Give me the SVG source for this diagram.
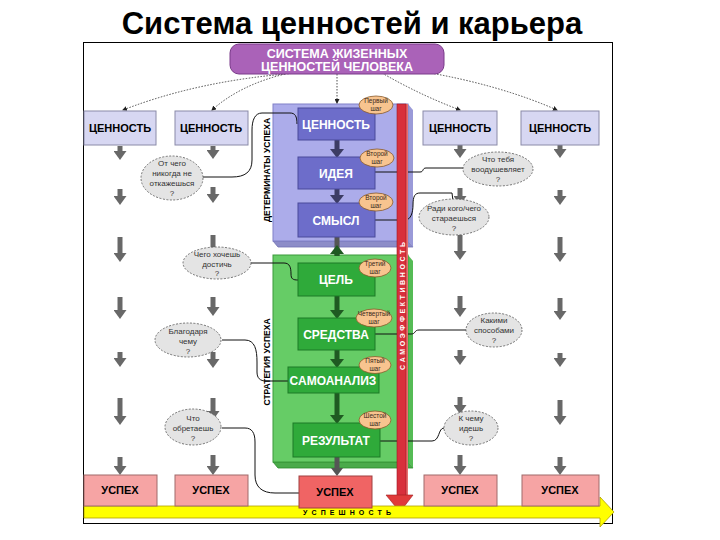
<svg xmlns="http://www.w3.org/2000/svg" width="720" height="540" viewBox="0 0 720 540">
<defs>
<style>
.t{font-family:"Liberation Sans",Arial,sans-serif;font-weight:bold;}
.val{fill:#d7d7f2;stroke:#8a8aa8;stroke-width:1;}
.ok{fill:#f6a4a4;stroke:#a06a6a;stroke-width:1;}
.blue{fill:#6d6dca;stroke:#4a4a9a;stroke-width:1;}
.green{fill:#2faa3a;stroke:#1d7a26;stroke-width:1;}
.step{fill:#f8c48f;stroke:#8a5a2a;stroke-width:0.8;}
.q{fill:#e4e4e4;stroke:#555;stroke-width:0.8;stroke-dasharray:2 1.5;}
.qt{font-family:"Liberation Sans",Arial,sans-serif;font-size:8px;fill:#333;text-anchor:middle;}
.st{font-family:"Liberation Sans",Arial,sans-serif;font-size:6.5px;fill:#3a2a1a;text-anchor:middle;}
.lbl{font-family:"Liberation Sans",Arial,sans-serif;font-weight:bold;font-size:11px;text-anchor:middle;}
.wl{fill:#fff;font-size:12px;}
.top{fill:#fff;font-size:12.5px;}
.garr{stroke:#686868;stroke-width:5;marker-end:url(#gh);}
.barr{stroke:#3c3c64;stroke-width:5;marker-end:url(#bh);}
.darr{stroke:#1f5a22;stroke-width:5;marker-end:url(#dh);}
.con{fill:none;stroke:#111;stroke-width:1;}
.dot{fill:none;stroke:#222;stroke-width:0.8;stroke-dasharray:1.5 1.5;marker-end:url(#sh);}
</style>
<marker id="gh" markerUnits="userSpaceOnUse" markerWidth="9" markerHeight="13" refX="0" refY="6.5" orient="auto" viewBox="0 0 9 13"><path d="M0,0 L9,6.5 L0,13 Z" fill="#686868"/></marker>
<marker id="bh" markerUnits="userSpaceOnUse" markerWidth="9" markerHeight="14" refX="0" refY="7" orient="auto" viewBox="0 0 9 14"><path d="M0,0 L9,7 L0,14 Z" fill="#3c3c64"/></marker>
<marker id="dh" markerUnits="userSpaceOnUse" markerWidth="9" markerHeight="14" refX="0" refY="7" orient="auto" viewBox="0 0 9 14"><path d="M0,0 L9,7 L0,14 Z" fill="#1f5a22"/></marker>
<marker id="sh" markerUnits="userSpaceOnUse" markerWidth="5" markerHeight="5" refX="4" refY="2.5" orient="auto" viewBox="0 0 5 5"><path d="M0,0 L5,2.5 L0,5 Z" fill="#222"/></marker>
</defs>
<rect x="0" y="0" width="720" height="540" fill="#fff"/>
<text class="t" x="352" y="34" font-size="31" text-anchor="middle" fill="#000">Система ценностей и карьера</text>
<rect x="83.5" y="42.5" width="529" height="481" fill="#fff" stroke="#000" stroke-width="1"/>

<!-- panels -->
<g id="panel-determinants">
<polygon points="273,241 408,241 413,247 278,247" fill="#8c8cc8" stroke="#7070b0" stroke-width="0.8"/>
<polygon points="408,104 413,110 413,247 408,241" fill="#9a9ad8"/>
<rect x="273" y="104" width="135" height="137" fill="#acacea" stroke="#8080c8" stroke-width="1"/>
<text class="t" transform="translate(270,170) rotate(-90)" font-size="8.5" text-anchor="middle" fill="#000">ДЕТЕРМИНАТЫ УСПЕХА</text>
</g>
<g id="panel-strategy">
<polygon points="273,462 408,462 413,468 278,468" fill="#4aaa4a" stroke="#2a8a2a" stroke-width="0.8"/>
<polygon points="408,255 413,261 413,468 408,462" fill="#55bb55"/>
<rect x="273" y="255" width="135" height="207" fill="#66cc66" stroke="#3a9a3a" stroke-width="1"/>
<text class="t" transform="translate(270,362) rotate(-90)" font-size="8.5" text-anchor="middle" fill="#000">СТРАТЕГИЯ УСПЕХА</text>
</g>

<!-- connectors -->
<g id="connectors">
<line class="garr" x1="120" y1="146" x2="120" y2="151"/>
<line class="garr" x1="120" y1="189" x2="120" y2="196"/>
<line class="garr" x1="120" y1="237" x2="120" y2="253"/>
<line class="garr" x1="120" y1="297" x2="120" y2="310"/>
<line class="garr" x1="120" y1="352" x2="120" y2="358"/>
<line class="garr" x1="120" y1="398" x2="120" y2="416"/>
<line class="garr" x1="120" y1="457" x2="120" y2="466"/>
<line class="garr" x1="213" y1="146" x2="213" y2="150"/>
<line class="garr" x1="213" y1="187" x2="213" y2="194"/>
<line class="garr" x1="213" y1="235" x2="213" y2="252"/>
<line class="garr" x1="213" y1="297" x2="213" y2="307"/>
<line class="garr" x1="213" y1="352" x2="213" y2="359"/>
<line class="garr" x1="213" y1="398" x2="213" y2="411"/>
<line class="garr" x1="213" y1="455" x2="213" y2="466"/>
<line class="garr" x1="460" y1="145" x2="460" y2="149"/>
<line class="garr" x1="460" y1="188" x2="460" y2="196"/>
<line class="garr" x1="460" y1="235" x2="460" y2="251"/>
<line class="garr" x1="460" y1="296" x2="460" y2="308"/>
<line class="garr" x1="460" y1="350" x2="460" y2="356"/>
<line class="garr" x1="460" y1="397" x2="460" y2="405"/>
<line class="garr" x1="460" y1="455" x2="460" y2="466"/>
<line class="garr" x1="560" y1="145" x2="560" y2="149"/>
<line class="garr" x1="560" y1="190" x2="560" y2="196"/>
<line class="garr" x1="560" y1="237" x2="560" y2="253"/>
<line class="garr" x1="560" y1="298" x2="560" y2="311"/>
<line class="garr" x1="560" y1="353" x2="560" y2="358"/>
<line class="garr" x1="560" y1="400" x2="560" y2="416"/>
<line class="garr" x1="560" y1="457" x2="560" y2="466"/>
<line class="barr" x1="337" y1="140" x2="337" y2="149"/>
<line class="barr" x1="337" y1="189" x2="337" y2="195"/>
<line x1="337" y1="237" x2="337" y2="256" stroke="#555" stroke-width="5"/>
<line class="darr" x1="337" y1="256" x2="337" y2="254"/>
<line class="darr" x1="337" y1="296" x2="337" y2="310"/>
<line class="darr" x1="337" y1="350" x2="337" y2="359"/>
<line class="darr" x1="337" y1="393" x2="337" y2="415"/>
<line x1="337" y1="457" x2="337" y2="468" stroke="#555" stroke-width="5"/>
<path d="M331,468 L343,468 L337,476 Z" fill="#555"/>
<path class="dot" d="M298,73 Q200,80 123,110"/>
<path class="dot" d="M285,74 Q240,85 212,110"/>
<path class="dot" d="M337,74 L337,103"/>
<path class="dot" d="M382,73 Q420,95 460,110"/>
<path class="dot" d="M425,72 Q500,85 557,110"/>
<path class="con" d="M297,124 C297,116 295,113 290,113 L262,113 C255,113 252,120 252,130 L252,160 C252,172 245,177 232,177 L203,177"/>
<path class="con" d="M375,172 L420,172 C424,172 422,168 426,168 L463,168"/>
<path class="con" d="M375,220 L405,220 C411,220 413,212 413,205 C413,196 415,193 420,193 L452,193 L453,201"/>
<path class="con" d="M251,263 L284,263 C290,263 291,268 291,274 C291,279 293,280 298,280"/>
<path class="con" d="M375,334 L411,334 C416,334 414,330 419,330 L466,330"/>
<path class="con" d="M222,340 L245,340 C255,340 257,350 257,362 L257,372 C257,378 260,381 266,381 L288,381"/>
<path class="con" d="M222,428 L245,428 C252,428 255,433 255,442 L255,475 C255,487 262,493 275,493 L299,493" stroke="#888"/>
<path class="con" d="M380,441 L432,441 C440,441 438,428 444,428"/>
</g>

<!-- red bar -->
<g id="self-efficacy">
<rect x="405" y="104" width="3" height="392" fill="#e87070"/>
<rect x="397" y="104" width="9" height="392" fill="#d8303c" stroke="#a01a24" stroke-width="0.6"/>
<path d="M386,495 L413,495 L400,512 Z" fill="#e03a3a" stroke="#a02020" stroke-width="0.6"/>
<text class="t" transform="translate(404.5,306) rotate(-90)" font-size="7" text-anchor="middle" fill="#fff" textLength="128" lengthAdjust="spacing">С А М О Э Ф Ф Е К Т И В Н О С Т Ь</text>
</g>

<g id="top">
<rect x="230" y="44" width="214" height="30" rx="9" fill="#aa62b8" stroke="#7a3a8a" stroke-width="1"/>
<text class="lbl top" x="337" y="57.5">СИСТЕМА ЖИЗЕННЫХ</text>
<text class="lbl top" x="337" y="70.5">ЦЕННОСТЕЙ ЧЕЛОВЕКА</text>
</g>

<g id="val1"><rect class="val" x="84" y="111" width="72" height="34"/><text class="lbl" x="120" y="132">ЦЕННОСТЬ</text></g>
<g id="val2"><rect class="val" x="175" y="111" width="73" height="34"/><text class="lbl" x="211" y="132">ЦЕННОСТЬ</text></g>
<g id="val4"><rect class="val" x="423" y="111" width="74" height="34"/><text class="lbl" x="460" y="132">ЦЕННОСТЬ</text></g>
<g id="val5"><rect class="val" x="521" y="111" width="78" height="34"/><text class="lbl" x="560" y="132">ЦЕННОСТЬ</text></g>

<g id="b-value"><rect class="blue" x="298" y="108" width="77" height="32"/><text class="lbl wl" x="336" y="129">ЦЕННОСТЬ</text></g>
<g id="b-idea"><rect class="blue" x="298" y="157" width="77" height="32"/><text class="lbl wl" x="336" y="178">ИДЕЯ</text></g>
<g id="b-sense"><rect class="blue" x="298" y="203" width="77" height="34"/><text class="lbl wl" x="336" y="225">СМЫСЛ</text></g>
<g id="g-goal"><rect class="green" x="298" y="263" width="77" height="33"/><text class="lbl wl" x="336" y="284">ЦЕЛЬ</text></g>
<g id="g-means"><rect class="green" x="298" y="318" width="77" height="32"/><text class="lbl wl" x="336" y="339">СРЕДСТВА</text></g>
<g id="g-self"><rect class="green" x="288" y="367" width="91" height="26"/><text class="lbl wl" x="333" y="385">САМОАНАЛИЗ</text></g>
<g id="g-result"><rect class="green" x="293" y="423" width="87" height="34"/><text class="lbl wl" x="336" y="445">РЕЗУЛЬТАТ</text></g>

<g id="s1"><ellipse class="step" cx="376" cy="105" rx="17" ry="9"/><text class="st" x="376" y="103">Первый</text><text class="st" x="376" y="111">шаг</text></g>
<g id="s2"><ellipse class="step" cx="377" cy="158" rx="17" ry="9"/><text class="st" x="377" y="156">Второй</text><text class="st" x="377" y="164">шаг</text></g>
<g id="s2b"><ellipse class="step" cx="376" cy="202" rx="17" ry="9"/><text class="st" x="376" y="200">Второй</text><text class="st" x="376" y="208">шаг</text></g>
<g id="s3"><ellipse class="step" cx="375" cy="268" rx="16" ry="9"/><text class="st" x="375" y="266">Третий</text><text class="st" x="375" y="274">шаг</text></g>
<g id="s4"><ellipse class="step" cx="374" cy="318" rx="18" ry="9"/><text class="st" x="374" y="316">Четвертый</text><text class="st" x="374" y="324">шаг</text></g>
<g id="s5"><ellipse class="step" cx="375" cy="365" rx="16" ry="8.5"/><text class="st" x="375" y="363">Пятый</text><text class="st" x="375" y="371">шаг</text></g>
<g id="s6"><ellipse class="step" cx="375" cy="420" rx="16" ry="9"/><text class="st" x="375" y="418">Шестой</text><text class="st" x="375" y="426">шаг</text></g>

<g id="q1"><ellipse class="q" cx="172" cy="178" rx="31" ry="22"/><text class="qt" x="172" y="166">От чего</text><text class="qt" x="172" y="176">никогда не</text><text class="qt" x="172" y="186">откажешься</text><text class="qt" x="172" y="196">?</text></g>
<g id="q2"><ellipse class="q" cx="217" cy="263" rx="34" ry="16"/><text class="qt" x="217" y="257">Чего хочешь</text><text class="qt" x="217" y="267">достичь</text><text class="qt" x="217" y="276">?</text></g>
<g id="q3"><ellipse class="q" cx="188" cy="340" rx="33" ry="17"/><text class="qt" x="188" y="334">Благодаря</text><text class="qt" x="188" y="344">чему</text><text class="qt" x="188" y="354">?</text></g>
<g id="q4"><ellipse class="q" cx="193" cy="427" rx="28" ry="18"/><text class="qt" x="193" y="421">Что</text><text class="qt" x="193" y="431">обретаешь</text><text class="qt" x="193" y="441">?</text></g>
<g id="q5"><ellipse class="q" cx="498" cy="169" rx="35" ry="17"/><text class="qt" x="498" y="162">Что тебя</text><text class="qt" x="498" y="172">воодушевляет</text><text class="qt" x="498" y="182">?</text></g>
<g id="q6"><ellipse class="q" cx="454" cy="217" rx="35" ry="18"/><text class="qt" x="454" y="211">Ради кого/чего</text><text class="qt" x="454" y="221">стараешься</text><text class="qt" x="454" y="231">?</text></g>
<g id="q7"><ellipse class="q" cx="494" cy="330" rx="28" ry="17"/><text class="qt" x="494" y="323">Какими</text><text class="qt" x="494" y="333">способами</text><text class="qt" x="494" y="343">?</text></g>
<g id="q8"><ellipse class="q" cx="471" cy="428" rx="27" ry="17"/><text class="qt" x="471" y="421">К чему</text><text class="qt" x="471" y="431">идешь</text><text class="qt" x="471" y="441">?</text></g>

<g id="success-bar">
<path d="M84,506 L600,506 L600,497 L614,512 L600,527 L600,518 L84,518 Z" fill="#ffff00" stroke="#b0a000" stroke-width="0.8"/>
<text class="t" x="347" y="515" font-size="7" text-anchor="middle" fill="#000" textLength="88" lengthAdjust="spacing">У С П Е Ш Н О С Т Ь</text>
</g>
<g id="ok1"><rect class="ok" x="84" y="475" width="73" height="31"/><text class="lbl" x="120" y="494">УСПЕХ</text></g>
<g id="ok2"><rect class="ok" x="175" y="475" width="73" height="31"/><text class="lbl" x="211" y="494">УСПЕХ</text></g>
<g id="ok3"><rect x="299" y="476" width="73" height="32" fill="#f06464" stroke="#a04040" stroke-width="1"/><text class="lbl" x="335" y="496">УСПЕХ</text></g>
<g id="ok4"><rect class="ok" x="424" y="475" width="73" height="31"/><text class="lbl" x="460" y="494">УСПЕХ</text></g>
<g id="ok5"><rect class="ok" x="522" y="475" width="77" height="31"/><text class="lbl" x="560" y="494">УСПЕХ</text></g>
</svg>
